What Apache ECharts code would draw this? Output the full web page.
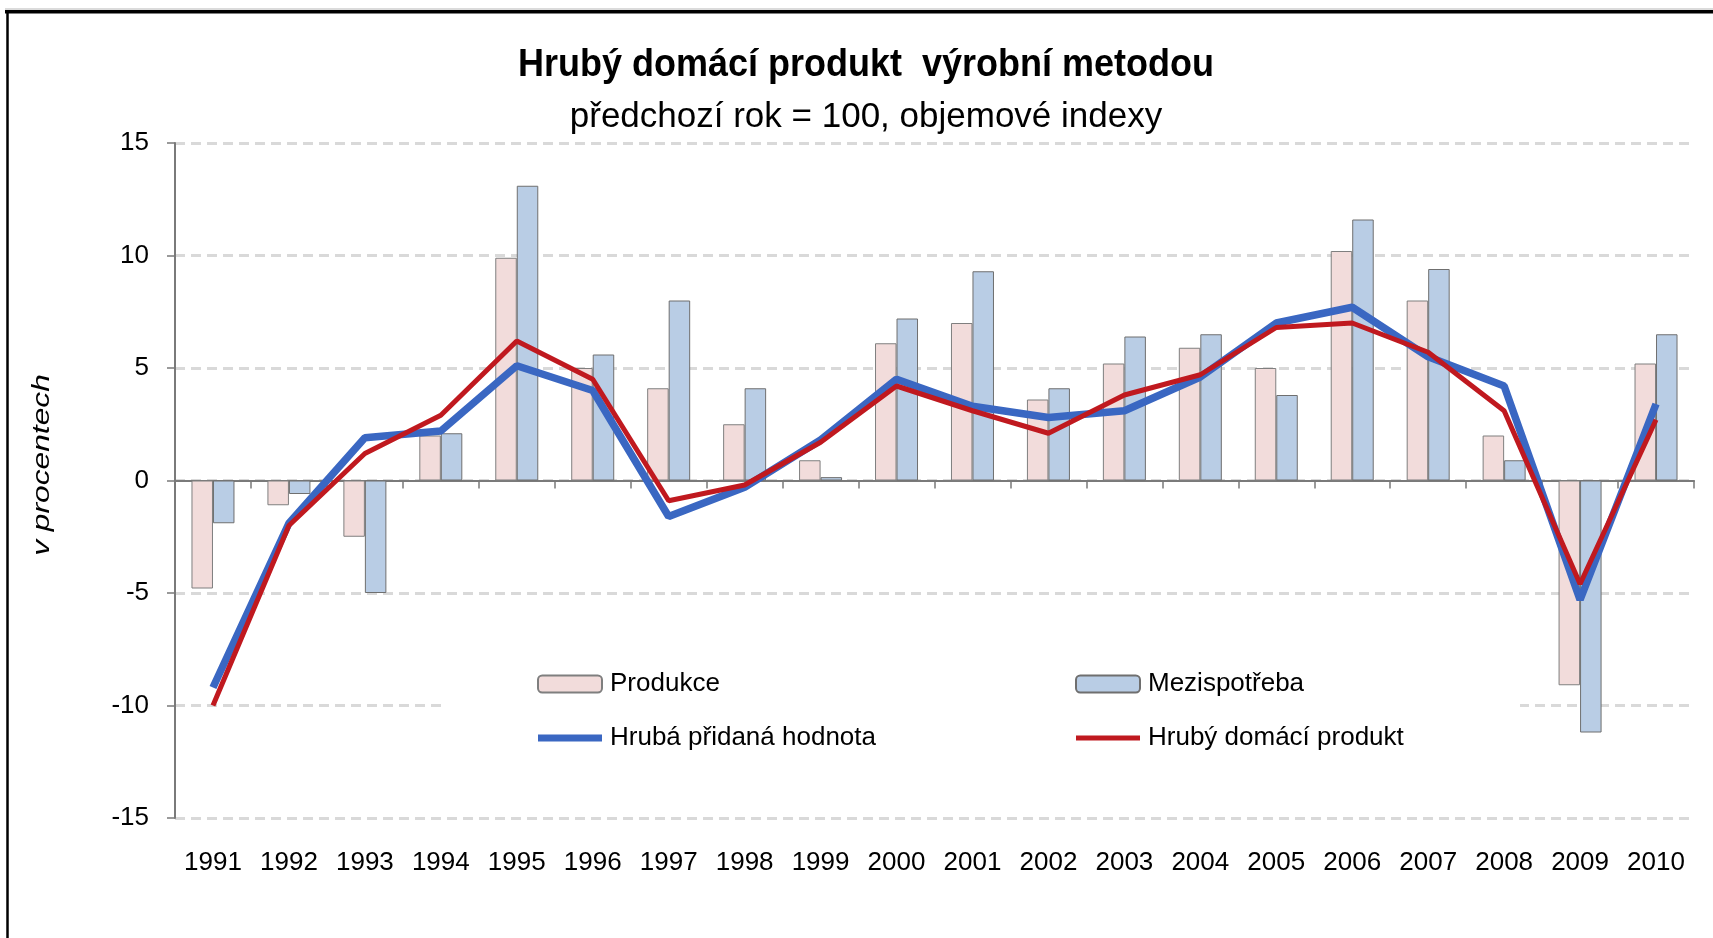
<!DOCTYPE html>
<html>
<head>
    <meta charset="utf-8">
    <title>Hrubý domácí produkt výrobní metodou</title>
    <script src="https://cdn.jsdelivr.net/npm/echarts@6.0.0/dist/echarts.min.js"></script>
    <style>
        html, body { margin: 0; padding: 0; background: #fff; }
        #chart { width: 1713px; height: 938px; }
    </style>
</head>
<body>
<div id="chart"></div>
<script>
    // data
    var years = ['1991', '1992', '1993', '1994', '1995', '1996', '1997', '1998', '1999', '2000',
                 '2001', '2002', '2003', '2004', '2005', '2006', '2007', '2008', '2009', '2010'];
    var produkce = [-4.8, -1.1, -2.5, 2.0, 9.9, 5.0, 4.1, 2.5, 0.9, 6.1,
                    7.0, 3.6, 5.2, 5.9, 5.0, 10.2, 8.0, 2.0, -9.1, 5.2];
    var mezispotreba = [-1.9, -0.6, -5.0, 2.1, 13.1, 5.6, 8.0, 4.1, 0.15, 7.2,
                        9.3, 4.1, 6.4, 6.5, 3.8, 11.6, 9.4, 0.9, -11.2, 6.5];
    var hph = [-9.2, -1.9, 1.9, 2.2, 5.1, 4.0, -1.6, -0.3, 1.8, 4.5,
               3.3, 2.8, 3.1, 4.6, 7.0, 7.7, 5.5, 4.2, -5.3, 3.4];
    var hdp = [-10.0, -2.0, 1.2, 2.9, 6.2, 4.5, -0.9, -0.2, 1.7, 4.2,
               3.1, 2.1, 3.8, 4.7, 6.8, 7.0, 5.7, 3.1, -4.6, 2.7];
    var yTicks = [-15, -10, -5, 0, 5, 10, 15];

    var FONT = '"Liberation Sans", Arial, sans-serif';
    var axisGray = '#7a7a7a';
    var blue = '#3a67c2';
    var red = '#c0191f';

    var chart = echarts.init(document.getElementById('chart'));

    var legendText = { fontFamily: FONT, fontSize: 26, color: '#000', padding: [0, 0, 0, 3] };

    var option = {
        animation: false,
        backgroundColor: '#fff',
        textStyle: { fontFamily: FONT },
        grid: {
            left: 175, right: 19, top: 143, bottom: 120,
            containLabel: false,
            outerBoundsMode: 'none'
        },
        legend: [{
            orient: 'vertical',
            left: 532, top: 666,
            itemWidth: 64, itemHeight: 17,
            itemGap: 28,
            data: [
                'Produkce',
                { name: 'Hrubá přidaná hodnota', icon: 'path://M0,0H64V7H0Z' }
            ],
            textStyle: legendText
        }, {
            orient: 'vertical',
            left: 1070, top: 666,
            itemWidth: 64, itemHeight: 17,
            itemGap: 28,
            data: [
                'Mezispotřeba',
                { name: 'Hrubý domácí produkt', icon: 'path://M0,0H64V5H0Z' }
            ],
            textStyle: legendText
        }],
        xAxis: [{
            type: 'category',
            data: years,
            position: 'bottom',
            axisLine: { show: false, onZero: false },
            axisTick: { show: false },
            splitLine: { show: false },
            axisLabel: {
                interval: 0, margin: 32,
                fontFamily: FONT, fontSize: 26, color: '#000'
            }
        }, {
            type: 'category',
            data: years,
            position: 'bottom',
            axisLine: { show: true, onZero: true, lineStyle: { color: axisGray, width: 2 } },
            axisTick: { show: true, interval: 0, length: 8, lineStyle: { color: axisGray, width: 1.5 } },
            axisLabel: { show: false },
            splitLine: { show: false }
        }],
        yAxis: {
            type: 'value',
            min: yTicks[0],
            max: yTicks[yTicks.length - 1],
            interval: 5,
            axisLine: { show: true, lineStyle: { color: axisGray, width: 2 } },
            axisTick: { show: true, length: 8, lineStyle: { color: axisGray, width: 1.5 } },
            axisLabel: { margin: 26, fontFamily: FONT, fontSize: 26, color: '#000' },
            splitLine: {
                show: true,
                lineStyle: { color: '#d9d9d9', width: 3, type: [10, 6] }
            }
        },
        graphic: [
            // chart frame
            { type: 'line', shape: { x1: 5, y1: 9, x2: 1713, y2: 9 }, style: { stroke: '#cfcfcf', lineWidth: 1.5 }, silent: true },
            { type: 'line', shape: { x1: 5, y1: 11.8, x2: 1713, y2: 11.8 }, style: { stroke: '#000', lineWidth: 3.5 }, silent: true },
            { type: 'line', shape: { x1: 7.5, y1: 10, x2: 7.5, y2: 938 }, style: { stroke: '#000', lineWidth: 2.5 }, silent: true },
            // white box behind the legend
            { type: 'rect', z: 1, shape: { x: 441, y: 618, width: 1079, height: 168 }, style: { fill: '#fff' }, silent: true },
            // titles
            {
                type: 'text', x: 866, y: 65, scaleY: 1.06,
                style: {
                    text: 'Hrubý domácí produkt  výrobní metodou',
                    font: 'bold 36px ' + FONT, fill: '#000',
                    align: 'center', verticalAlign: 'middle'
                }
            },
            {
                type: 'text', x: 866, y: 117,
                style: {
                    text: 'předchozí rok = 100, objemové indexy',
                    font: '35px ' + FONT, fill: '#000',
                    align: 'center', verticalAlign: 'middle'
                }
            },
            {
                type: 'text', x: 43, y: 465, rotation: Math.PI / 2, scaleX: 1.38,
                style: {
                    text: 'v procentech',
                    font: 'italic 23px ' + FONT, fill: '#000',
                    align: 'center', verticalAlign: 'middle'
                }
            }
        ],
        series: [{
            name: 'Produkce',
            type: 'bar',
            xAxisIndex: 0,
            data: produkce,
            barWidth: 21.5,
            barGap: '0%',
            itemStyle: { color: '#f2dcdb', borderColor: '#7f7f7f', borderWidth: 1 }
        }, {
            name: 'Mezispotřeba',
            type: 'bar',
            xAxisIndex: 0,
            data: mezispotreba,
            barWidth: 21.5,
            barGap: '0%',
            itemStyle: { color: '#b9cde5', borderColor: '#6f6f6f', borderWidth: 1 }
        }, {
            name: 'Hrubá přidaná hodnota',
            type: 'line',
            xAxisIndex: 0,
            data: hph,
            symbol: 'none',
            lineStyle: { color: blue, width: 7.5 },
            itemStyle: { color: blue }
        }, {
            name: 'Hrubý domácí produkt',
            type: 'line',
            xAxisIndex: 0,
            data: hdp,
            symbol: 'none',
            lineStyle: { color: red, width: 5 },
            itemStyle: { color: red }
        }]
    };

    chart.setOption(option);
</script>
</body>
</html>
